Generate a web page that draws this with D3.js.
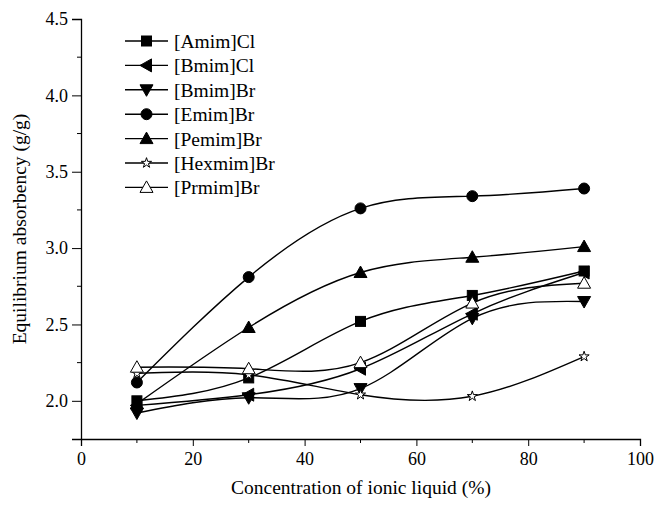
<!DOCTYPE html>
<html>
<head>
<meta charset="utf-8">
<script src="https://cdn.jsdelivr.net/npm/d3@7"></script>
<style>
  body { margin: 0; background: #fff; }
  text { font-family: "Liberation Serif", "DejaVu Serif", serif; fill: #000; }
</style>
</head>
<body>
<svg id="chart" width="657" height="506"></svg>
<script>
// data
var concentrations = [10, 30, 50, 70, 90];
var seriesNames = ["[Amim]Cl", "[Bmim]Cl", "[Bmim]Br", "[Emim]Br", "[Pemim]Br", "[Hexmim]Br", "[Prmim]Br"];
var amimCl   = [2.00, 2.15, 2.52, 2.69, 2.85];
var bmimCl   = [1.97, 2.04, 2.21, 2.57, 2.84];
var bmimBr   = [1.92, 2.02, 2.08, 2.54, 2.65];
var emimBr   = [2.12, 2.81, 3.26, 3.34, 3.39];
var pemimBr  = [1.98, 2.48, 2.84, 2.94, 3.01];
var hexmimBr = [2.18, 2.17, 2.04, 2.03, 2.29];
var prmimBr  = [2.22, 2.21, 2.25, 2.64, 2.77];
var markerTypes = ["square", "triLeft", "triDown", "circle", "triUp", "star", "triUpOpen"];
var xTicks = [0, 20, 40, 60, 80, 100];
var yTicks = [2.0, 2.5, 3.0, 3.5, 4.0, 4.5];

var allValues = [amimCl, bmimCl, bmimBr, emimBr, pemimBr, hexmimBr, prmimBr];

var svg = d3.select("#chart");
var plotLeft = 81, plotRight = 640, plotTop = 19, plotBottom = 439;

var xScale = d3.scaleLinear().domain([0, 100]).range([plotLeft, plotRight]);
var yScale = d3.scaleLinear().domain([1.75, 4.5]).range([plotBottom, plotTop]);

// axes
var xAxis = svg.append("g")
  .attr("transform", "translate(0," + plotBottom + ")")
  .call(d3.axisBottom(xScale).tickValues(xTicks).tickSize(7).tickPadding(6).tickFormat(d3.format("d")));
xAxis.selectAll("text").style("font-size", "18px");

var xMinor = d3.range(10, 100, 20);
svg.append("g").selectAll("line").data(xMinor).enter().append("line")
  .attr("x1", function(d) { return xScale(d); })
  .attr("x2", function(d) { return xScale(d); })
  .attr("y1", plotBottom).attr("y2", plotBottom + 4)
  .attr("stroke", "#000");

var yAxis = svg.append("g")
  .attr("transform", "translate(" + plotLeft + ",0)")
  .call(d3.axisLeft(yScale).tickValues(yTicks).tickSize(9).tickPadding(4).tickFormat(d3.format(".1f")));
yAxis.selectAll("text").style("font-size", "18px");

var yMinor = [2.25, 2.75, 3.25, 3.75, 4.25];
svg.append("g").selectAll("line").data(yMinor).enter().append("line")
  .attr("y1", function(d) { return yScale(d); })
  .attr("y2", function(d) { return yScale(d); })
  .attr("x1", plotLeft).attr("x2", plotLeft - 4)
  .attr("stroke", "#000");

svg.selectAll(".domain").attr("stroke", "#000").attr("stroke-width", 1.3);
svg.selectAll(".tick line").attr("stroke", "#000");

// axis titles
svg.append("text")
  .attr("x", 361).attr("y", 494)
  .attr("text-anchor", "middle")
  .style("font-size", "19.5px")
  .text("Concentration of ionic liquid (%)");

svg.append("text")
  .attr("transform", "translate(26," + ((plotTop + plotBottom) / 2) + ") rotate(-90)")
  .attr("text-anchor", "middle")
  .style("font-size", "19.5px")
  .text("Equilibrium absorbency (g/g)");

// symbols
function drawMarker(g, type, x, y) {
  var filled = !(type == "star" || type == "triUpOpen");
  var fill = filled ? "#000" : "#fff";
  var p;
  if (type == "square") {
    p = g.append("rect").attr("x", x - 5).attr("y", y - 5).attr("width", 10).attr("height", 10);
  } else if (type == "circle") {
    p = g.append("circle").attr("cx", x).attr("cy", y).attr("r", 5.5);
  } else if (type == "triUp" || type == "triUpOpen") {
    p = g.append("path").attr("d", "M" + x + "," + (y - 6.5) + "L" + (x + 6.5) + "," + (y + 5) + "L" + (x - 6.5) + "," + (y + 5) + "Z");
  } else if (type == "triDown") {
    p = g.append("path").attr("d", "M" + x + "," + (y + 6.5) + "L" + (x + 6.5) + "," + (y - 5) + "L" + (x - 6.5) + "," + (y - 5) + "Z");
  } else if (type == "triLeft") {
    p = g.append("path").attr("d", "M" + (x - 6.5) + "," + y + "L" + (x + 5) + "," + (y - 6.5) + "L" + (x + 5) + "," + (y + 6.5) + "Z");
  } else {
    p = g.append("path").attr("d", d3.symbol().type(d3.symbolStar).size(32)()).attr("transform", "translate(" + x + "," + y + ")");
  }
  p.attr("fill", fill).attr("stroke", "#000").attr("stroke-width", 1);
}

var line = d3.line()
  .x(function(d, i) { return xScale(concentrations[i]); })
  .y(function(d) { return yScale(d); })
  .curve(d3.curveNatural);

allValues.forEach(function(vals, k) {
  svg.append("path")
    .attr("d", line(vals))
    .attr("fill", "none")
    .attr("stroke", "#000")
    .attr("stroke-width", 1.4);
});

allValues.forEach(function(vals, k) {
  var g = svg.append("g");
  vals.forEach(function(v, i) {
    drawMarker(g, markerTypes[k], xScale(concentrations[i]), yScale(v));
  });
});

// legend
var legend = svg.append("g");
seriesNames.forEach(function(name, k) {
  var ly = 41 + k * 24.4;
  legend.append("line").attr("x1", 125).attr("x2", 168).attr("y1", ly).attr("y2", ly)
    .attr("stroke", "#000").attr("stroke-width", 1.4);
  drawMarker(legend, markerTypes[k], 146.5, ly);
  legend.append("text").attr("x", 174).attr("y", ly + 7)
    .style("font-size", "19.5px").text(name);
});
</script>
</body>
</html>
